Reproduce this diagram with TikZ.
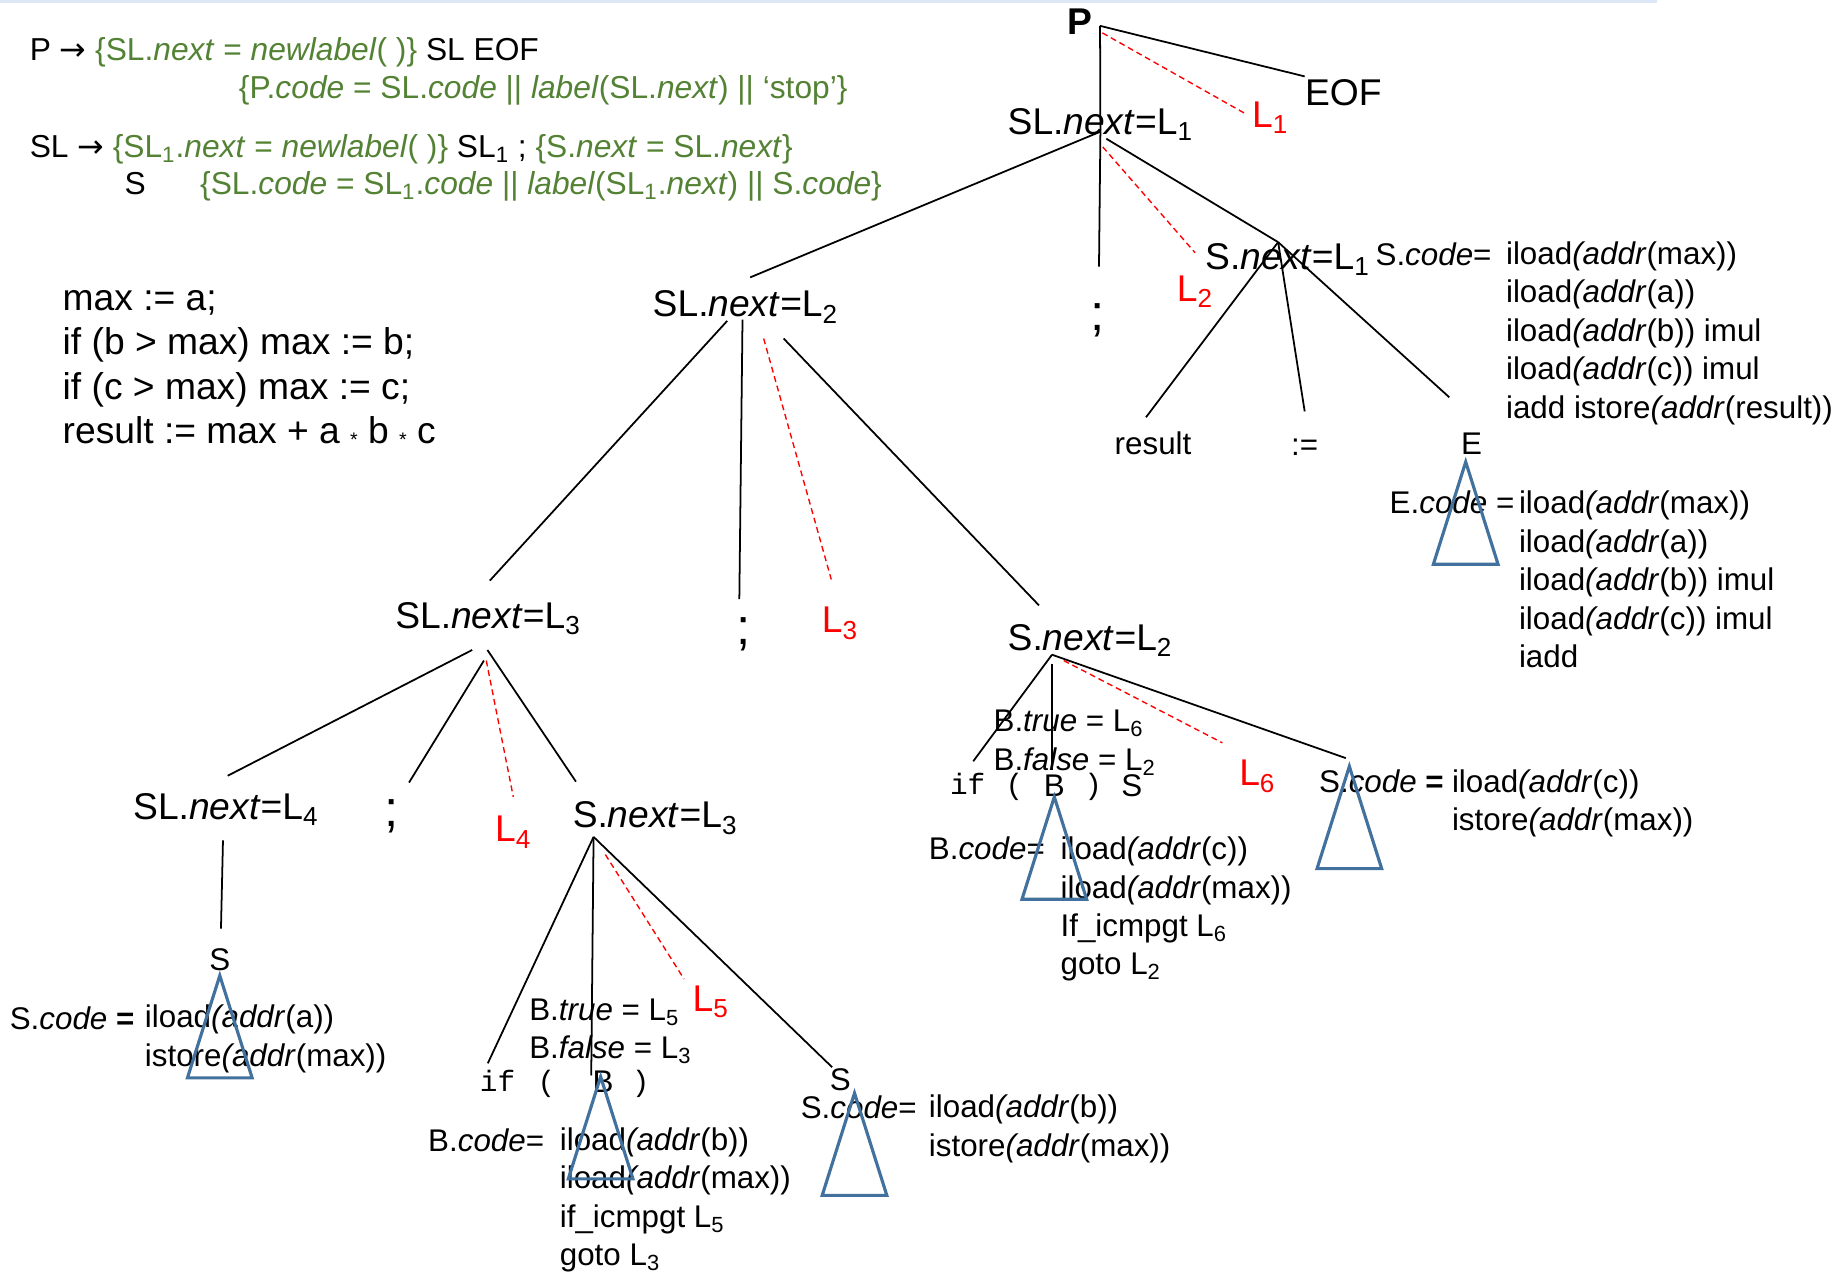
\documentclass[tikz,border=0pt]{standalone}
\usepackage{fontspec}
\setmainfont{Liberation Sans}
\newfontfamily\codemono{Liberation Mono}
\newfontfamily\arrowfont{DejaVu Sans}
\usetikzlibrary{calc}
\definecolor{gramgreen}{RGB}{84,130,53}
\definecolor{triblue}{RGB}{65,113,156}
\definecolor{topblue}{RGB}{222,231,246}
\newcommand{\iload}[1]{iload\textit{(addr}(#1))}
\newcommand{\istore}[1]{istore\textit{(addr}(#1))}
\newcommand{\tinystar}{\raisebox{-1.5pt}{\fontsize{10}{10}\selectfont *}}
\begin{document}
\begin{tikzpicture}[
			x=0.6pt,y=-0.6pt,
			big/.style={inner sep=0pt,text height=14.4pt,text depth=0.8pt,font=\fontsize{19}{22.6}\selectfont},
			small/.style={inner sep=0pt,text height=12.16pt,text depth=0.64pt,font=\fontsize{16}{19.6}\selectfont},
			mono/.style={inner sep=0pt,text height=11pt,text depth=1pt,font=\codemono\fontsize{15}{18}\selectfont},
			semi/.style={inner sep=0pt,anchor=base,font=\fontsize{26}{30}\selectfont},
			block/.style={inner sep=0pt,align=left,anchor=west,font=\fontsize{16}{19.6}\selectfont},
			gram/.style={inner sep=0pt,text height=12.3pt,text depth=0.65pt,anchor=west,font=\fontsize{16.2}{19}\selectfont},
			lbl/.style={big,text=red,anchor=west},
			branch/.style={line width=0.9pt},
			nextlink/.style={red,line width=0.7pt,dash pattern=on 3pt off 2pt},
			tri/.style={triblue,line width=1.6pt,line join=miter}
		]
		\useasboundingbox (0,0) rectangle (1568,1083);
		\draw[topblue,line width=1.8pt] (0,1) -- (1410,1);

		\node[gram] (gone) at (25,42) {P {\arrowfont→} \textcolor{gramgreen}{\{SL.\textit{next} = \textit{newlabel}( )\}} SL EOF};
		\node[gram,text=gramgreen] (gtwo) at (203,74) {\{P.\textit{code} = SL.\textit{code} || \textit{label}(SL.\textit{next}) || ‘stop’\}};
		\node[gram] (gthree) at (25,124) {SL {\arrowfont→} \textcolor{gramgreen}{\{SL\textsubscript{1}.\textit{next} = \textit{newlabel}( )\}} SL\textsubscript{1} ; \textcolor{gramgreen}{\{S.\textit{next} = SL.\textit{next}\}}};
		\node[gram,anchor=center] (gfour) at (115,156) {S};
		\node[gram,text=gramgreen] (gfive) at (170,156) {\{SL.\textit{code} = SL\textsubscript{1}.\textit{code} || \textit{label}(SL\textsubscript{1}.\textit{next}) || S.\textit{code}\}};

		\node[block,font=\fontsize{19}{22.6}\selectfont] (prog) at (53,313.5) {max := a;\\if (b > max) max := b;\\if (c > max) max := c;\\result := max + a \tinystar\ b \tinystar\ c};

		\node[big] (P) at (919,18) {\bfseries P};
		\node[big,anchor=west] (eof) at (1110,78) {EOF};
		\node[lbl] (lone) at (1065,97) {L\textsubscript{1}};
		\node[big,anchor=west] (slone) at (857,103) {SL.\textit{next}=L\textsubscript{1}};
		\node[semi] (semione) at (934,281) {;};
		\node[lbl] (ltwo) at (1001,245) {L\textsubscript{2}};
		\node[big,anchor=west] (sone) at (1025,218) {S.\textit{next}=L\textsubscript{1}};
		\node[small,anchor=west] (sonecode) at (1170,216) {S.\textit{code}=};
		\node[block] (sonelist) at (1281,283.5) {\iload{max}\\\iload{a}\\\iload{b} imul\\\iload{c} imul\\iadd \istore{result}};
		\node[small] (result) at (981,377) {result};
		\node[small] (assign) at (1110,378) {:=};
		\node[small] (E) at (1252,377) {E};
		\node[small,anchor=west] (Ecode) at (1182,427) {E.\textit{code} =};
		\node[block] (Elist) at (1292,493) {\iload{max}\\\iload{a}\\\iload{b} imul\\\iload{c} imul\\iadd};

		\node[big,anchor=west] (sltwo) at (555,258) {SL.\textit{next}=L\textsubscript{2}};
		\node[semi] (semitwo) at (633,548) {;};
		\node[lbl] (lthree) at (699,527) {L\textsubscript{3}};
		\node[big,anchor=west] (stwo) at (857,542) {S.\textit{next}=L\textsubscript{2}};
		\node[big,anchor=west] (slthree) at (336,523) {SL.\textit{next}=L\textsubscript{3}};
		\node[big,anchor=west] (slfour) at (113,686) {SL.\textit{next}=L\textsubscript{4}};
		\node[semi] (semithree) at (333,703) {;};
		\node[lbl] (lfour) at (421,705) {L\textsubscript{4}};
		\node[big,anchor=west] (sthree) at (487,693) {S.\textit{next}=L\textsubscript{3}};

		\node[small] (sfour) at (187,816) {S};
		\node[small,anchor=west] (sfourcode) at (8,866) {S.\textit{code} \textbf{=}};
		\node[block] (sfourlist) at (123,884) {\iload{a}\\\istore{max}};

		\node[lbl] (lfive) at (589,849) {L\textsubscript{5}};
		\node[block] (bacond) at (450,877.5) {B.\textit{true} = L\textsubscript{5}\\B.\textit{false} = L\textsubscript{3}};
		\node[mono,anchor=west] (ifa) at (408,920) {if};
		\node[mono] (lpa) at (465,920) {(};
		\node[small] (ba) at (513,920) {B};
		\node[mono] (rpa) at (545,920) {)};
		\node[small,anchor=west] (bacode) at (364,970) {B.\textit{code}=};
		\node[block] (balist) at (476,1021) {\iload{b}\\\iload{max}\\if\_icmpgt L\textsubscript{5}\\goto L\textsubscript{3}};
		\node[small] (sfive) at (715,918) {S};
		\node[small,anchor=west] (sfivecode) at (681,942) {S.\textit{code}=};
		\node[block] (sfivelist) at (790,960.5) {\iload{b}\\\istore{max}};

		\node[lbl] (lsix) at (1054,657) {L\textsubscript{6}};
		\node[block] (bbcond) at (845,632) {B.\textit{true} = L\textsubscript{6}\\B.\textit{false} = L\textsubscript{2}};
		\node[mono,anchor=west] (ifb) at (808,668) {if};
		\node[mono] (lpb) at (863,668) {(};
		\node[small] (bb) at (897,668) {B};
		\node[mono] (rpb) at (930,668) {)};
		\node[small] (ssix) at (963,668) {S};
		\node[small,anchor=west] (bbcode) at (790,722) {B.\textit{code}=};
		\node[block] (bblist) at (902,773.5) {\iload{c}\\\iload{max}\\If\_icmpgt L\textsubscript{6}\\goto L\textsubscript{2}};
		\node[small,anchor=west] (sevencode) at (1122,665) {S.\textit{code} \textbf{=}};
		\node[block] (sevenlist) at (1235,683.5) {\iload{c}\\\istore{max}};

		\coordinate (tE) at (1247,393);
		\coordinate (tSa) at (187,830);
		\coordinate (tBa) at (511,916);
		\coordinate (tSb) at (727,930);
		\coordinate (tBb) at (897,678);
		\coordinate (tSc) at (1148,652);
		\foreach \t in {tE,tSa,tBa,tSb,tBb,tSc}
			\draw[tri] (\t) -- ++(-27.5,87) -- ++(55,0) -- cycle;

		\coordinate (Pj) at ($(P.east)+(6,4)$);
		\coordinate (slj) at ($(slone.south)+(0,-4)$);
		\coordinate (sonej) at ($(sone.north)+(-8,1)$);
		\coordinate (sthreej) at ($(sthree.south west)+(18,6)$);
		\coordinate (stwoj) at ($(stwo.south west)+(38,2)$);

		\draw[branch] (Pj) -- (slj);
		\draw[branch] (Pj) -- (eof.north west);
		\draw[nextlink] ($(Pj)+(2,6)$) -- ($(lone.west)+(-5,0)$);
		\draw[branch] (slj) -- ($(sltwo.north)+(4,-9)$);
		\draw[branch] (slj) -- ($(semione.north)+(1,-31)$);
		\draw[nextlink] ($(slj)+(2,13)$) -- ($(ltwo.north)+(0,-17)$);
		\draw[branch] ($(slj)+(5,6)$) -- (sonej);
		\draw[branch] (sonej) -- ($(result.north)+(-6,-11)$);
		\draw[branch] (sonej) -- ($(assign.north)+(0,-17)$);
		\draw[branch] (sonej) -- ($(E.north)+(-19,-28)$);

		\draw[branch] ($(sltwo.south)+(-15.5,2)$) -- ($(slthree.north)+(1.5,-16)$);
		\draw[branch] ($(sltwo.south)+(-2.5,1)$) -- ($(semitwo.north)+(-4,-15)$);
		\draw[nextlink] ($(sltwo.south)+(15.5,17)$) -- ($(lthree.north)+(-7.5,-21)$);
		\draw[branch] ($(sltwo.south)+(32.5,17)$) -- ($(stwo.north)+(-43.5,-14)$);

		\draw[branch] ($(slthree.south)+(-13.5,17)$) -- ($(slfour.north)+(1.5,-13)$);
		\draw[branch] ($(slthree.south)+(-3.5,26)$) -- ($(semithree.north)+(15,-14)$);
		\draw[nextlink] ($(slthree.south)+(-1.5,26)$) -- ($(lfour.north)+(0,-14)$);
		\draw[branch] ($(slthree.south)+(-0.5,17)$) -- ($(sthree.north west)+(3,-15)$);

		\draw[branch] ($(slfour.south)+(-2.5,16)$) -- ($(sfour.north)+(1,-15)$);

		\draw[branch] (sthreej) -- ($(ifa.north west)+(7,-5)$);
		\draw[branch] (sthreej) -- ($(ba.north)+(-10,6)$);
		\draw[nextlink] ($(sthreej)+(10,15)$) -- ($(lfive.north west)+(-7,-3)$);
		\draw[branch] (sthreej) -- ($(sfive.north)+(-7,1)$);

		\draw[branch] (stwoj) -- ($(ifb.north west)+(20,-10)$);
		\draw[branch] ($(stwoj)+(0,8)$) -- ($(bb.north)+(-2,-2)$);
		\draw[nextlink] ($(stwoj)+(10,5)$) -- ($(lsix.north west)+(-14,-12)$);
		\draw[branch] (stwoj) -- ($(tSc)+(-3,-7)$);
	\end{tikzpicture}
\end{document}
